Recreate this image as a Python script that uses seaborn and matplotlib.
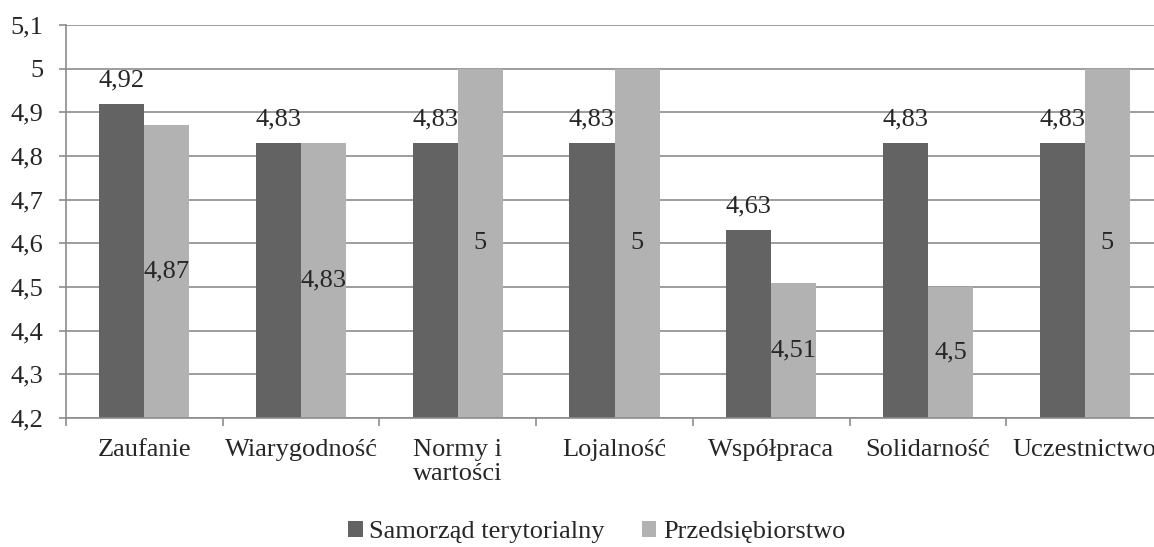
import matplotlib
matplotlib.use("Agg")
import matplotlib.pyplot as plt
import seaborn as sns
import pandas as pd
from matplotlib.ticker import FixedLocator

categories = ["Zaufanie", "Wiarygodność", "Normy i\nwartości", "Lojalność",
              "Współpraca", "Solidarność", "Uczestnictwo"]
series_names = ["Samorząd terytorialny", "Przedsiębiorstwo"]
samorzad = [4.92, 4.83, 4.83, 4.83, 4.63, 4.83, 4.83]
przedsiebiorstwo = [4.87, 4.83, 5.0, 5.0, 4.51, 4.5, 5.0]
y_ticks = [4.2, 4.3, 4.4, 4.5, 4.6, 4.7, 4.8, 4.9, 5.0, 5.1]
colors = ["#636363", "#b2b2b2"]

df = pd.DataFrame({
    "kategoria": categories * 2,
    "seria": [series_names[0]] * len(categories) + [series_names[1]] * len(categories),
    "wartosc": samorzad + przedsiebiorstwo,
})


def fmt(v):
    s = f"{v:.2f}".rstrip("0").rstrip(".")
    return s.replace(".", ",")


sns.set_theme(style="white")
plt.rcParams["font.family"] = ["Liberation Serif", "DejaVu Serif"]
FS = 19

fig = plt.figure(figsize=(11.54, 5.47), dpi=100)
# the plot area runs slightly past the right edge of the image, as in the original
ax = fig.add_axes([0.0572, 0.2358, 0.9506, 0.7184])

sns.barplot(data=df, x="kategoria", y="wartosc", hue="seria", palette=colors,
            width=0.575, gap=0, saturation=1, linewidth=0, ax=ax, legend=True)

ymin, ymax = 4.2, 5.1
ax.set_ylim(ymin, ymax)
ax.set_xlim(-0.5, len(categories) - 0.5)
ax.set_yticks(y_ticks)
ax.set_yticklabels([fmt(t) for t in y_ticks], fontsize=FS)
ax.yaxis.grid(True, color="#8c8c8c", linewidth=1.2)
ax.set_axisbelow(True)

ax.set_xticks(range(len(categories)))
ax.set_xticklabels(categories, fontsize=FS, linespacing=1.1)
ax.tick_params(axis="x", which="major", length=0, pad=15)
ax.xaxis.set_minor_locator(FixedLocator([i - 0.5 for i in range(len(categories) + 1)]))
ax.tick_params(axis="x", which="minor", length=6, color="#8c8c8c", width=1.2,
               bottom=True, direction="out")
ax.tick_params(axis="y", length=5, color="#8c8c8c", width=1.2, left=True, pad=11.5)
ax.set_xlabel("")
ax.set_ylabel("")

for side in ["top", "right"]:
    ax.spines[side].set_visible(False)
for side in ["left", "bottom"]:
    ax.spines[side].set_color("#8c8c8c")
    ax.spines[side].set_linewidth(1.2)

# data labels: dark series above bar, light series centred in bar
for cont_idx, container in enumerate(ax.containers):
    vals = samorzad if cont_idx == 0 else przedsiebiorstwo
    for bar, v in zip(container, vals):
        cx = bar.get_x() + bar.get_width() / 2
        if cont_idx == 0:
            ax.annotate(fmt(v), (cx, v), xytext=(0, 9), textcoords="offset points",
                        ha="center", va="bottom", fontsize=FS)
        else:
            ax.text(cx, (ymin + v) / 2, fmt(v), ha="center", va="center", fontsize=FS)

leg = ax.legend(loc="center", bbox_to_anchor=(0.517, 0.027),
                bbox_transform=fig.transFigure, ncol=2, frameon=False,
                fontsize=FS, handlelength=0.55, handleheight=0.55,
                handletextpad=0.25, columnspacing=1.4)

fig.savefig("out.png", dpi=100)
